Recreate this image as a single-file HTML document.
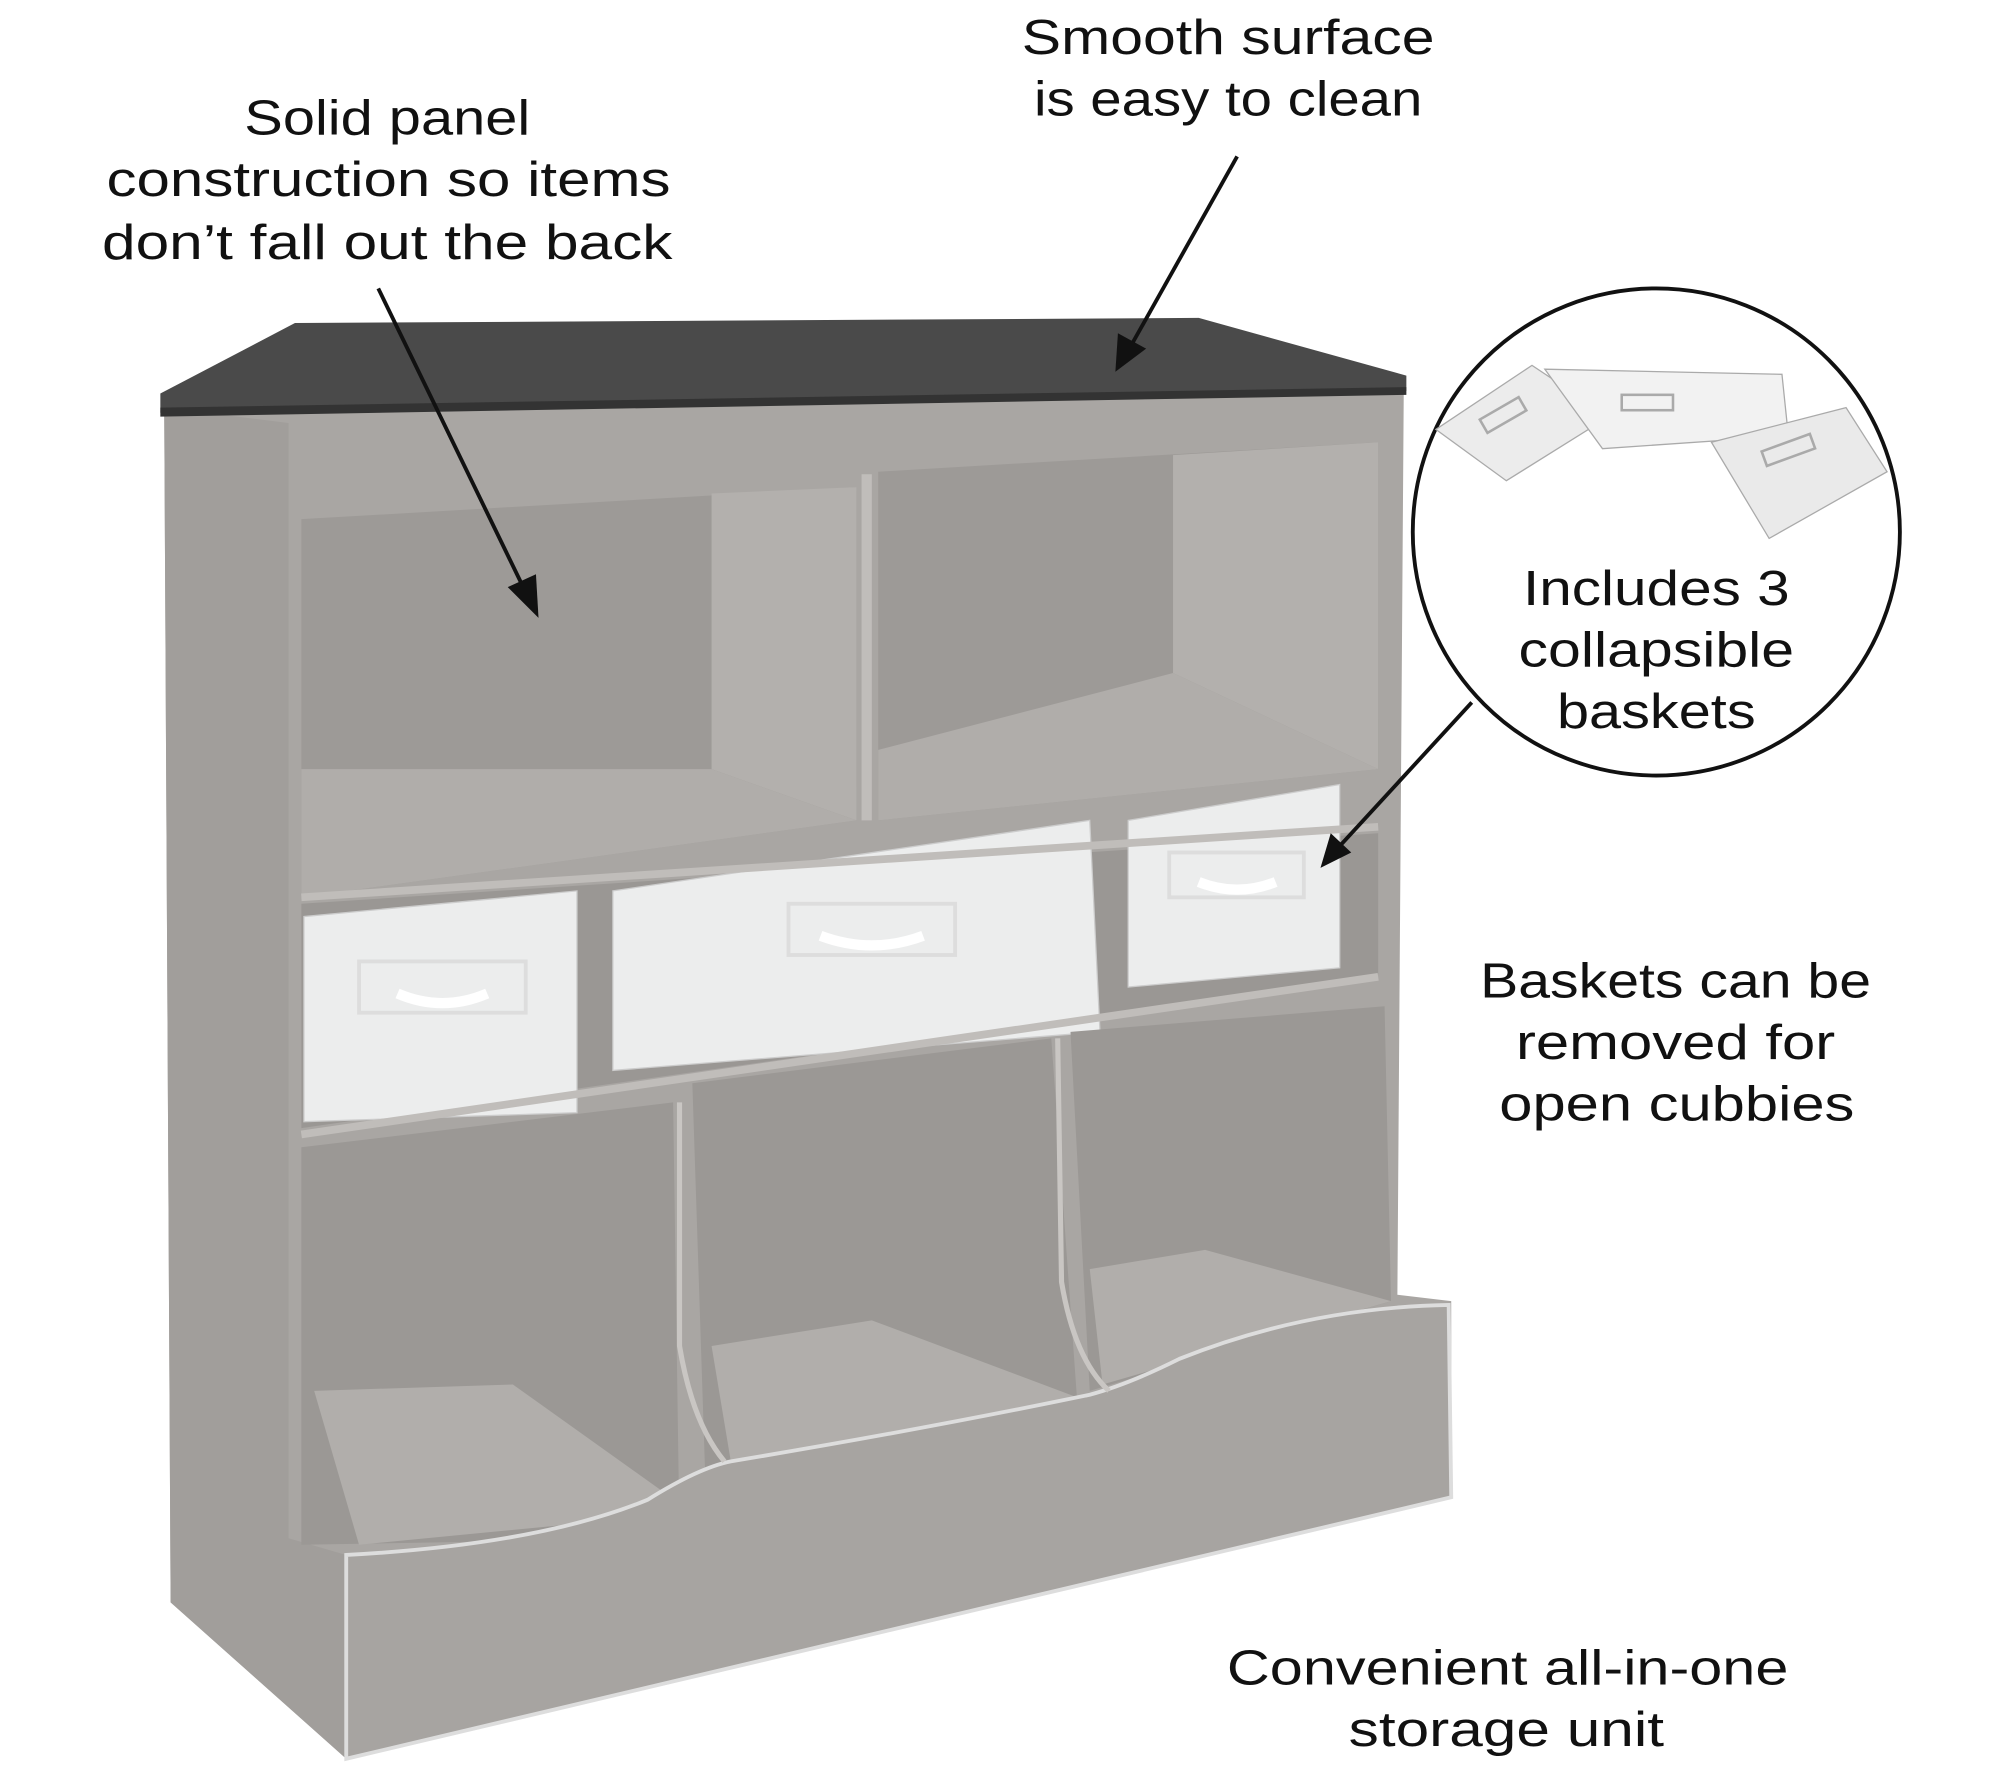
<!DOCTYPE html>
<html><head><meta charset="utf-8"><style>
html,body{margin:0;padding:0;background:#fff;}
svg{display:block;}
text{font-family:"Liberation Sans",sans-serif;font-size:38px;fill:#111;text-anchor:middle;}
</style></head><body>
<svg width="2000" height="1778" viewBox="0 0 1560 1387" xmlns="http://www.w3.org/2000/svg">
<!-- body -->
<polygon points="128,318 1095,300 1090,1010 1132,1015 1132,1168 270,1372 133,1250" fill="#a9a6a3"/>
<!-- left side face -->
<polygon points="128,318 225,330 225,1200 270,1213 270,1372 133,1250" fill="#a19e9b"/>
<!-- top slab -->
<polygon points="125,307 230,252 935,248 1097,293 1097,305 125,322" fill="#4a4a4a"/>
<polygon points="125,318 1097,302 1097,308 125,325" fill="#333"/>
<!-- upper cubbies -->
<polygon points="235,405 668,380 668,640 235,700" fill="#9d9a97"/>
<polygon points="555,385 668,380 668,640 555,600" fill="#b3b0ad"/>
<polygon points="235,600 555,600 668,640 235,700" fill="#b0adaa"/>
<polygon points="685,368 1075,345 1075,600 685,640" fill="#9d9a97"/>
<polygon points="915,355 1075,345 1075,600 915,525" fill="#b3b0ad"/>
<polygon points="685,585 915,525 1075,600 685,640" fill="#b0adaa"/>
<!-- middle row background -->
<polygon points="235,705 1075,650 1075,760 235,880" fill="#9a9794"/>
<!-- baskets -->
<polygon points="237,715 450,695 450,868 237,875" fill="#eceded" stroke="#ccc"/>
<rect x="280" y="750" width="130" height="40" fill="none" stroke="#ddd" stroke-width="3"/>
<path d="M310 775 q35 15 70 0" stroke="#fff" stroke-width="8" fill="none"/>
<polygon points="478,695 850,640 858,805 478,835" fill="#eceded" stroke="#ccc"/>
<rect x="615" y="705" width="130" height="40" fill="none" stroke="#ddd" stroke-width="3"/>
<path d="M640 730 q40 15 80 0" stroke="#fff" stroke-width="8" fill="none"/>
<polygon points="880,640 1045,612 1045,755 880,770" fill="#eceded" stroke="#ccc"/>
<rect x="912" y="665" width="105" height="35" fill="none" stroke="#ddd" stroke-width="3"/>
<path d="M935 688 q30 12 60 0" stroke="#fff" stroke-width="8" fill="none"/>
<!-- lower cubbies -->
<polygon points="235,895 525,860 530,1200 235,1205" fill="#9b9895"/>
<polygon points="245,1085 400,1080 540,1180 280,1205" fill="#b1aeab"/>
<polygon points="540,845 820,810 840,1090 550,1150" fill="#9b9895"/>
<polygon points="555,1050 680,1030 840,1090 570,1140" fill="#b1aeab"/>
<polygon points="835,805 1080,785 1085,1015 850,1085" fill="#9b9895"/>
<polygon points="850,990 940,975 1085,1015 860,1080" fill="#b1aeab"/>
<!-- front lower board -->
<path d="M270,1213 Q420,1205 505,1170 Q545,1145 570,1140 Q720,1115 850,1088 Q880,1080 920,1060 Q1020,1020 1130,1018 L1132,1168 L270,1372 Z" fill="#a7a4a1" stroke="#ddd" stroke-width="3"/>
<!-- dividers -->
<path d="M530,860 L530,1050 Q540,1110 565,1140" stroke="#c9c6c3" stroke-width="4" fill="none"/>
<path d="M825,810 L828,1000 Q838,1060 865,1085" stroke="#c9c6c3" stroke-width="4" fill="none"/>
<line x1="235" y1="700" x2="1075" y2="645" stroke="#c0bdba" stroke-width="6"/>
<line x1="235" y1="885" x2="1075" y2="762" stroke="#c0bdba" stroke-width="6"/>
<line x1="676" y1="370" x2="676" y2="640" stroke="#c0bdba" stroke-width="8"/>
<!-- circle -->
<circle cx="1292" cy="415" r="190" fill="#fff" stroke="#111" stroke-width="3"/>
<polygon points="1120,335 1195,285 1255,325 1175,375" fill="#ececec" stroke="#aaa"/>
<polygon points="1205,288 1390,292 1395,340 1250,350" fill="#f2f2f2" stroke="#aaa"/>
<polygon points="1335,345 1440,318 1472,368 1380,420" fill="#eaeaea" stroke="#aaa"/>
<rect x="1155" y="318" width="35" height="12" fill="none" stroke="#aaa" stroke-width="2" transform="rotate(-30 1172 324)"/>
<rect x="1265" y="308" width="40" height="12" fill="none" stroke="#aaa" stroke-width="2"/>
<rect x="1375" y="345" width="40" height="12" fill="none" stroke="#aaa" stroke-width="2" transform="rotate(-20 1395 351)"/>
<!-- text -->
<text x="302" y="105" textLength="223" lengthAdjust="spacingAndGlyphs">Solid panel</text>
<text x="303" y="153" textLength="440" lengthAdjust="spacingAndGlyphs">construction so items</text>
<text x="302" y="202" textLength="445" lengthAdjust="spacingAndGlyphs">don’t fall out the back</text>
<text x="958" y="42" textLength="322" lengthAdjust="spacingAndGlyphs">Smooth surface</text>
<text x="958" y="90" textLength="303" lengthAdjust="spacingAndGlyphs">is easy to clean</text>
<text x="1292" y="472" textLength="208" lengthAdjust="spacingAndGlyphs">Includes 3</text>
<text x="1292" y="520" textLength="215" lengthAdjust="spacingAndGlyphs">collapsible</text>
<text x="1292" y="568" textLength="155" lengthAdjust="spacingAndGlyphs">baskets</text>
<text x="1307" y="778" textLength="305" lengthAdjust="spacingAndGlyphs">Baskets can be</text>
<text x="1307" y="826" textLength="249" lengthAdjust="spacingAndGlyphs">removed for</text>
<text x="1308" y="874" textLength="277" lengthAdjust="spacingAndGlyphs">open cubbies</text>
<text x="1176" y="1314" textLength="438" lengthAdjust="spacingAndGlyphs">Convenient all-in-one</text>
<text x="1175" y="1362" textLength="246" lengthAdjust="spacingAndGlyphs">storage unit</text>
<!-- arrows -->
<g stroke="#111" stroke-width="3" fill="#111">
<line x1="295" y1="225" x2="410" y2="462"/>
<polygon points="420,482 396,458 418,448" stroke="none"/>
<line x1="965" y1="122" x2="882" y2="270"/>
<polygon points="870,290 872,260 894,272" stroke="none"/>
<line x1="1148" y1="548" x2="1045" y2="660"/>
<polygon points="1030,677 1038,650 1054,665" stroke="none"/>
</g>
</svg>
</body></html>
